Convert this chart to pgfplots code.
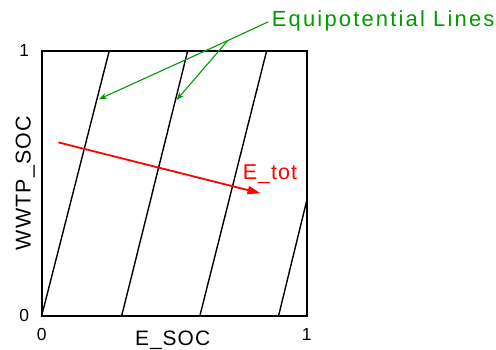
\documentclass[border=0pt]{standalone}
\usepackage{fontspec}
\setmainfont{Liberation Sans}
\usepackage{pgfplots}
\pgfplotsset{compat=1.18}
\usetikzlibrary{arrows.meta}
\definecolor{eqgreen}{RGB}{0,153,0}
\begin{document}
\begin{tikzpicture}
\useasboundingbox (0,0) rectangle (496bp,350bp);
\begin{axis}[
  at={(41.7bp,34.3bp)}, anchor=south west,
  scale only axis, width=265bp, height=265bp,
  xmin=0, xmax=1, ymin=0, ymax=1,
  xtick={0,1}, ytick={0,1},
  major tick length=0pt,
  axis line style={line width=1.8bp},
  /pgf/number format/assume math mode=true,
  tick label style={font=\fontsize{17.5}{17.5}\selectfont, inner sep=0pt},
  yticklabel style={xshift=-12.4bp},
  xticklabel style={yshift=-12.3bp},
  xlabel={E\_SOC}, ylabel={WWTP\_SOC},
  label style={font=\fontsize{21}{21}\selectfont\addfontfeature{LetterSpace=5}, inner sep=0pt},
  xlabel style={at={(axis description cs:0.494,-0.1106)}, anchor=base},
  ylabel style={at={(axis description cs:-0.042,0.5)}, anchor=base, font=\fontsize{21.5}{21.5}\selectfont\addfontfeature{LetterSpace=5}},
  clip=true,
]
\addplot[black, line width=1.4bp] coordinates {(0,0) (0.255,1)};
\addplot[black, line width=1.4bp] coordinates {(0.302,0) (0.551,1)};
\addplot[black, line width=1.4bp] coordinates {(0.597,0) (0.849,1)};
\addplot[black, line width=1.4bp] coordinates {(0.894,0) (1.0,0.434)};
\addplot[red, line width=1.8bp, -{Triangle[length=13bp,width=8bp]}] coordinates {(0.063,0.654) (0.826,0.462)};
\end{axis}
\begin{axis}[
  at={(41.7bp,34.3bp)}, anchor=south west,
  scale only axis, width=265bp, height=265bp,
  xmin=0, xmax=1, ymin=0, ymax=1,
  hide axis, clip=false,
]
\addplot[eqgreen, line width=1.1bp, -{Stealth[length=8bp,width=6bp]}] coordinates {(0.855,1.109) (0.702,1.038) (0.216,0.817)};
\addplot[eqgreen, line width=1.1bp, -{Stealth[length=8bp,width=6bp]}] coordinates {(0.702,1.038) (0.509,0.814)};
\node[anchor=base west, inner sep=0pt, text=eqgreen, font=\fontsize{22}{22}\selectfont\addfontfeature{LetterSpace=10}] at (axis cs:0.868,1.0906) {Equipotential Lines};
\node[anchor=base west, inner sep=0pt, text=red, font=\fontsize{21.5}{21.5}\selectfont\addfontfeature{LetterSpace=5}] at (axis cs:0.758,0.515) {E\_tot};
\end{axis}
\end{tikzpicture}
\end{document}
